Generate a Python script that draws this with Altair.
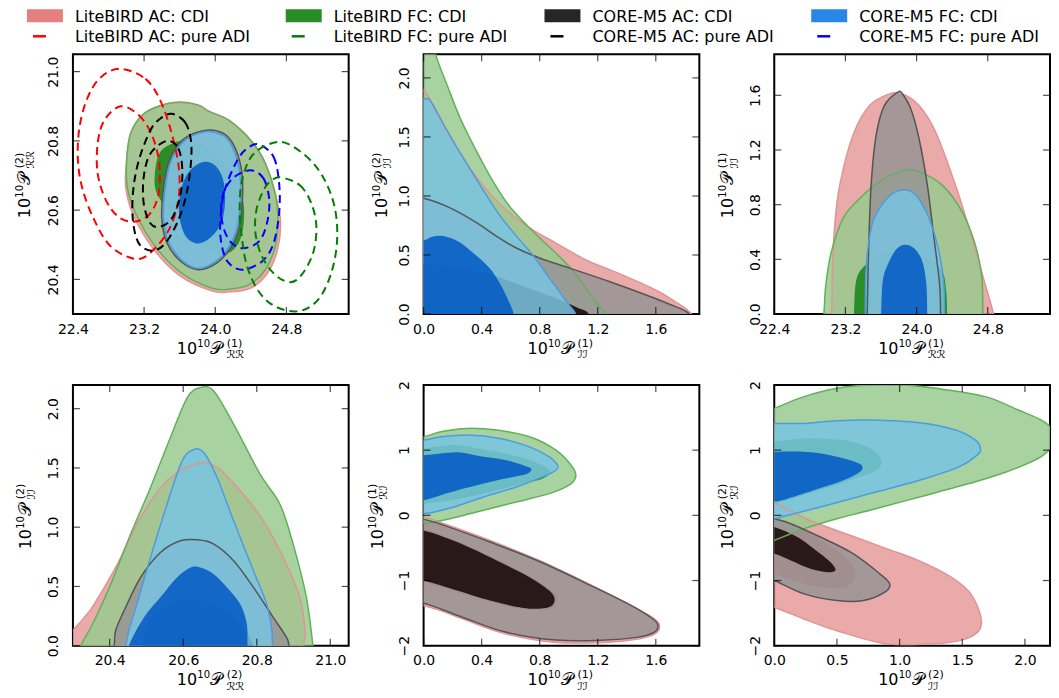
import altair as alt
import pandas as pd

FONT = "DejaVu Sans"

# ---------------- legend ----------------
LEG_CDI = ["LiteBIRD AC: CDI", "LiteBIRD FC: CDI", "CORE-M5 AC: CDI", "CORE-M5 FC: CDI"]
LEG_ADI = ["LiteBIRD AC: pure ADI", "LiteBIRD FC: pure ADI", "CORE-M5 AC: pure ADI", "CORE-M5 FC: pure ADI"]
LEG_PATCH = ["#e68080", "#288c28", "#262626", "#2887e6"]
LEG_DASH = ["#ff0000", "#008000", "#000000", "#0000ff"]

# ---------------- colours ----------------
C_LBAC_95, C_LBAC_68, E_LBAC = "#e79b9b", "#dc6060", "#e09494"
C_LBFC_95, C_LBFC_68, E_LBFC = "#99ca8f", "#148214", "#62b05a"
C_COAC_95, C_COAC_68, E_COAC = "#969494", "#140505", "#555555"
C_COFC_95, C_COFC_68, E_COFC = "#78c4e2", "#0058c4", "#4f9be0"

# ---------------- panel 1: P_RR(1) vs P_RR(2) ----------------
P1_LBAC_95 = [(23.004, 20.744), (23.048, 20.821), (23.178, 20.874), (23.363, 20.900), (23.585, 20.910),
              (23.807, 20.902), (23.933, 20.883), (24.156, 20.859), (24.415, 20.797), (24.563, 20.735),
              (24.674, 20.648), (24.733, 20.571), (24.704, 20.490), (24.593, 20.420), (24.400, 20.375),
              (24.156, 20.364), (23.956, 20.367), (23.604, 20.410), (23.307, 20.487), (23.078, 20.586),
              (22.993, 20.667)]
P1_LBFC_95 = [(23.004, 20.744), (23.048, 20.821), (23.178, 20.874), (23.363, 20.900), (23.585, 20.912),
              (23.807, 20.904), (23.933, 20.885), (24.156, 20.859), (24.415, 20.797), (24.563, 20.735),
              (24.674, 20.648), (24.704, 20.571), (24.674, 20.495), (24.563, 20.428), (24.378, 20.384),
              (24.156, 20.372), (23.956, 20.375), (23.622, 20.418), (23.326, 20.495), (23.104, 20.591),
              (23.011, 20.667)]
P1_LBFC_68 = [(23.319, 20.696), (23.370, 20.763), (23.511, 20.792), (23.696, 20.800), (23.956, 20.773),
              (24.178, 20.715), (24.304, 20.639), (24.322, 20.571), (24.270, 20.509), (24.141, 20.476),
              (23.956, 20.480), (23.696, 20.533), (23.474, 20.600), (23.344, 20.648)]
P1_COAC_95 = [(23.881, 20.830), (24.096, 20.821), (24.215, 20.784), (24.296, 20.715), (24.307, 20.639),
              (24.270, 20.550), (24.170, 20.490), (24.015, 20.447), (23.807, 20.428), (23.607, 20.453),
              (23.456, 20.506), (23.400, 20.571), (23.411, 20.648), (23.474, 20.736), (23.630, 20.802)]
P1_COFC_95 = [(23.881, 20.826), (24.085, 20.816), (24.193, 20.782), (24.270, 20.715), (24.285, 20.639),
              (24.248, 20.552), (24.156, 20.495), (24.007, 20.452), (23.807, 20.432), (23.622, 20.456),
              (23.474, 20.509), (23.419, 20.571), (23.430, 20.648), (23.493, 20.735), (23.641, 20.797)]
P1_COFC_68 = [(23.863, 20.739), (23.993, 20.730), (24.085, 20.691), (24.111, 20.629), (24.067, 20.562),
              (23.933, 20.518), (23.789, 20.504), (23.659, 20.528), (23.593, 20.591), (23.615, 20.658),
              (23.704, 20.711)]
# pure ADI (dashed)
P1_ADI_LBAC_95 = [(22.937, 21.008), (23.215, 20.979), (23.381, 20.917), (23.511, 20.821), (23.593, 20.715),
                  (23.578, 20.619), (23.456, 20.533), (23.215, 20.466), (23.030, 20.464), (22.807, 20.500),
                  (22.641, 20.571), (22.511, 20.658), (22.456, 20.744), (22.474, 20.840), (22.567, 20.926),
                  (22.715, 20.984)]
P1_ADI_LBAC_68 = [(22.937, 20.900), (23.141, 20.874), (23.289, 20.816), (23.370, 20.735), (23.363, 20.648),
                  (23.270, 20.591), (23.104, 20.567), (22.919, 20.579), (22.770, 20.629), (22.678, 20.706),
                  (22.678, 20.792), (22.752, 20.859)]
P1_ADI_COAC_95 = [(23.511, 20.878), (23.659, 20.854), (23.726, 20.802), (23.726, 20.735), (23.678, 20.648),
                  (23.585, 20.571), (23.437, 20.504), (23.289, 20.483), (23.141, 20.504), (23.074, 20.571),
                  (23.078, 20.658), (23.141, 20.744), (23.270, 20.830), (23.381, 20.864)]
P1_ADI_COAC_68 = [(23.456, 20.800), (23.585, 20.778), (23.630, 20.715), (23.604, 20.639), (23.511, 20.576),
                  (23.381, 20.552), (23.270, 20.562), (23.196, 20.619), (23.196, 20.696), (23.270, 20.763)]
P1_ADI_COFC_95 = [(24.489, 20.790), (24.655, 20.754), (24.718, 20.677), (24.718, 20.591), (24.655, 20.504),
                  (24.526, 20.452), (24.303, 20.428), (24.137, 20.452), (24.063, 20.514), (24.063, 20.591),
                  (24.118, 20.667), (24.248, 20.744), (24.359, 20.778)]
P1_ADI_COFC_68 = [(24.396, 20.715), (24.544, 20.691), (24.607, 20.629), (24.581, 20.562), (24.489, 20.509),
                  (24.303, 20.490), (24.155, 20.514), (24.074, 20.571), (24.081, 20.639), (24.192, 20.691)]
P1_ADI_LBFC_95 = [(24.729, 20.797), (25.007, 20.759), (25.211, 20.696), (25.341, 20.610), (25.370, 20.514),
                  (25.304, 20.418), (25.155, 20.341), (24.933, 20.308), (24.674, 20.322), (24.489, 20.365),
                  (24.359, 20.437), (24.303, 20.514), (24.274, 20.600), (24.303, 20.687), (24.433, 20.763)]
P1_ADI_LBFC_68 = [(24.748, 20.694), (24.952, 20.672), (25.081, 20.619), (25.137, 20.552), (25.100, 20.476),
                  (24.970, 20.413), (24.841, 20.392), (24.674, 20.413), (24.526, 20.466), (24.452, 20.533),
                  (24.463, 20.600), (24.544, 20.658), (24.637, 20.687)]

# ---------------- panel 2: P_II(1) vs P_II(2) ----------------
P2_LBAC_95 = [(-0.15, 1.95), (0.005, 1.886), (0.073, 1.740), (0.163, 1.543), (0.277, 1.318), (0.388, 1.121),
              (0.526, 0.93), (0.65, 0.80), (0.769, 0.70), (0.912, 0.601), (1.02, 0.525), (1.138, 0.447),
              (1.365, 0.334), (1.592, 0.208), (1.728, 0.110), (1.845, 0.0), (1.87, -0.15), (0.9, -0.3),
              (-0.15, -0.15)]
P2_LBFC_95 = [(-0.15, 2.5), (0.06, 2.39), (0.084, 2.195), (0.163, 1.936), (0.254, 1.653), (0.367, 1.374),
              (0.48, 1.121), (0.60, 0.90), (0.77, 0.68), (0.90, 0.53), (1.02, 0.38), (1.10, 0.25),
              (1.18, 0.11), (1.256, 0.0), (1.29, -0.15), (0.6, -0.3), (-0.15, -0.15)]
P2_COAC_95 = [(-0.15, 1.0), (0.0, 0.98), (0.186, 0.897), (0.37, 0.77), (0.503, 0.658), (0.639, 0.559),
              (0.798, 0.475), (1.002, 0.391), (1.274, 0.278), (1.524, 0.166), (1.728, 0.067), (1.830, 0.0),
              (1.86, -0.15), (0.9, -0.3), (-0.15, -0.15)]
P2_COAC_68 = [(-0.15, 0.42), (0.0, 0.42), (0.2, 0.40), (0.454, 0.337), (0.7, 0.23), (0.9, 0.14),
              (1.05, 0.06), (1.14, 0.0), (1.16, -0.15), (0.5, -0.3), (-0.15, -0.15)]
P2_COFC_95 = [(-0.15, 1.83), (0.005, 1.824), (0.05, 1.80), (0.141, 1.60), (0.254, 1.36), (0.374, 1.121),
              (0.522, 0.84), (0.64, 0.66), (0.748, 0.505), (0.87, 0.30), (0.998, 0.084), (1.048, 0.0),
              (1.07, -0.15), (0.5, -0.3), (-0.15, -0.15)]
P2_COFC_68 = [(-0.15, 0.6), (0.0, 0.625), (0.06, 0.655), (0.136, 0.66), (0.23, 0.62), (0.33, 0.53),
              (0.454, 0.39), (0.53, 0.25), (0.59, 0.10), (0.62, 0.0), (0.63, -0.15), (0.3, -0.3),
              (-0.15, -0.15)]

# ---------------- panel 3: P_RR(1) vs P_II(1) ----------------
P3_LBAC_95 = [(23.0, -0.15), (23.043, 0.0), (23.054, 0.337), (23.08, 0.652), (23.136, 0.943), (23.285, 1.307),
              (23.471, 1.525), (23.694, 1.610), (23.842, 1.610), (24.028, 1.525), (24.214, 1.331),
              (24.437, 0.943), (24.623, 0.555), (24.772, 0.216), (24.865, 0.0), (24.9, -0.15), (24.0, -0.3)]
P3_LBFC_95 = [(22.93, -0.15), (22.958, 0.0), (22.98, 0.216), (23.043, 0.458), (23.173, 0.70), (23.359, 0.845),
              (23.582, 0.967), (23.842, 1.047), (24.028, 1.04), (24.288, 0.943), (24.511, 0.749),
              (24.660, 0.507), (24.734, 0.264), (24.745, 0.0), (24.76, -0.15), (23.85, -0.3)]
P3_LBFC_68 = [(23.28, -0.15), (23.296, 0.0), (23.314, 0.216), (23.378, 0.325), (23.545, 0.41), (23.842, 0.458),
              (24.14, 0.41), (24.289, 0.313), (24.333, 0.167), (24.344, 0.0), (24.36, -0.15), (23.8, -0.3)]
P3_COAC_95 = [(23.43, -0.15), (23.445, 0.0), (23.46, 0.458), (23.489, 0.943), (23.545, 1.307), (23.638, 1.525),
              (23.787, 1.622), (23.842, 1.61), (23.935, 1.501), (24.028, 1.282), (24.121, 0.943),
              (24.196, 0.555), (24.259, 0.216), (24.270, 0.0), (24.28, -0.15), (23.85, -0.3)]
P3_COFC_95 = [(23.41, -0.15), (23.422, 0.0), (23.433, 0.337), (23.489, 0.628), (23.582, 0.773), (23.731, 0.882),
              (23.861, 0.907), (23.991, 0.870), (24.140, 0.70), (24.251, 0.458), (24.307, 0.216),
              (24.314, 0.0), (24.32, -0.15), (23.85, -0.3)]
P3_COFC_68 = [(23.59, -0.15), (23.601, 0.0), (23.619, 0.24), (23.675, 0.361), (23.768, 0.47), (23.861, 0.507),
              (23.972, 0.482), (24.065, 0.385), (24.11, 0.216), (24.121, 0.0), (24.13, -0.15), (23.85, -0.3)]

# ---------------- panel 4: P_RR(2) vs P_II(2) ----------------
P4_LBAC_95 = [(20.2, -0.2), (20.28, 0.06), (20.30, 0.13), (20.331, 0.239), (20.358, 0.351), (20.421, 0.689),
              (20.484, 1.082), (20.556, 1.391), (20.638, 1.537), (20.692, 1.504), (20.755, 1.307),
              (20.818, 1.054), (20.872, 0.745), (20.917, 0.408), (20.931, 0.126), (20.928, 0.0),
              (20.93, -0.15), (20.6, -0.3)]
P4_LBFC_95 = [(20.31, -0.15), (20.322, 0.0), (20.358, 0.211), (20.403, 0.52), (20.457, 0.942), (20.511, 1.335),
              (20.565, 1.757), (20.611, 2.094), (20.647, 2.178), (20.683, 2.15), (20.737, 1.869),
              (20.809, 1.447), (20.863, 1.194), (20.899, 0.857), (20.935, 0.408), (20.953, 0.0),
              (20.96, -0.15), (20.64, -0.3)]
P4_COAC_95 = [(20.40, -0.15), (20.412, 0.0), (20.416, 0.126), (20.439, 0.295), (20.484, 0.576), (20.538, 0.787),
              (20.592, 0.885), (20.638, 0.894), (20.683, 0.857), (20.737, 0.717), (20.791, 0.492),
              (20.845, 0.239), (20.881, 0.07), (20.888, 0.0), (20.90, -0.15), (20.65, -0.3)]
P4_COAC_68 = [(20.48, -0.15), (20.489, 0.0), (20.502, 0.183), (20.547, 0.323), (20.611, 0.385), (20.683, 0.351),
              (20.755, 0.183), (20.791, 0.0), (20.80, -0.15), (20.64, -0.3)]
P4_COFC_95 = [(20.44, -0.15), (20.444, 0.0), (20.452, 0.126), (20.474, 0.351), (20.511, 0.745), (20.556, 1.194),
              (20.597, 1.56), (20.628, 1.653), (20.656, 1.63), (20.692, 1.419), (20.737, 1.054),
              (20.791, 0.632), (20.827, 0.351), (20.841, 0.126), (20.843, 0.0), (20.85, -0.15), (20.64, -0.3)]
P4_COFC_68 = [(20.445, -0.15), (20.452, 0.0), (20.493, 0.239), (20.538, 0.408), (20.583, 0.576), (20.62, 0.66),
              (20.647, 0.66), (20.683, 0.604), (20.719, 0.492), (20.755, 0.351), (20.773, 0.183),
              (20.775, 0.0), (20.78, -0.15), (20.6, -0.3)]

# ---------------- panel 5: P_II(1) vs P_RI(1) ----------------
P5_LBAC_95 = [(-0.15, 0.0), (0.0, -0.026), (0.141, -0.128), (0.458, -0.385), (0.798, -0.692), (1.138, -1.051),
              (1.410, -1.359), (1.592, -1.590), (1.626, -1.718), (1.592, -1.821), (1.478, -1.897),
              (1.252, -1.949), (0.912, -1.949), (0.571, -1.821), (0.299, -1.615), (0.118, -1.462),
              (0.0, -1.385), (-0.15, -1.3)]
P5_LBAC_68 = [(-0.15, -0.2), (0.0, -0.21), (0.231, -0.39), (0.503, -0.675), (0.74, -0.94), (0.9, -1.19),
              (0.915, -1.34), (0.86, -1.44), (0.685, -1.44), (0.458, -1.33), (0.231, -1.18), (0.0, -1.03),
              (-0.15, -1.0)]
P5_LBFC_95 = [(-0.15, 1.2), (0.0, 1.205), (0.118, 1.282), (0.299, 1.333), (0.503, 1.308), (0.730, 1.205),
              (0.912, 1.0), (1.025, 0.744), (1.048, 0.59), (1.002, 0.462), (0.866, 0.333), (0.639, 0.205),
              (0.413, 0.077), (0.231, -0.026), (0.073, -0.103), (0.0, -0.12), (-0.15, -0.15)]
P5_LBFC_68 = [(-0.15, 1.02), (0.0, 1.026), (0.231, 1.077), (0.503, 0.974), (0.730, 0.846), (0.866, 0.703),
              (0.821, 0.564), (0.639, 0.462), (0.413, 0.333), (0.186, 0.231), (0.0, 0.179), (-0.15, 0.17)]
P5_COAC_95 = [(-0.15, -0.03), (0.0, -0.062), (0.141, -0.154), (0.458, -0.41), (0.798, -0.708), (1.138, -1.062),
              (1.41, -1.359), (1.58, -1.59), (1.615, -1.708), (1.58, -1.805), (1.467, -1.872),
              (1.252, -1.913), (0.912, -1.913), (0.571, -1.795), (0.299, -1.590), (0.118, -1.436),
              (0.0, -1.349), (-0.15, -1.28)]
P5_COAC_68 = [(-0.15, -0.2), (0.0, -0.231), (0.231, -0.41), (0.503, -0.692), (0.730, -0.949), (0.878, -1.179),
              (0.900, -1.333), (0.844, -1.421), (0.685, -1.421), (0.458, -1.308), (0.231, -1.154),
              (0.0, -1.0), (-0.15, -0.95)]
P5_COFC_95 = [(-0.15, 1.15), (0.0, 1.154), (0.118, 1.205), (0.299, 1.231), (0.526, 1.179), (0.730, 1.051),
              (0.866, 0.897), (0.923, 0.769), (0.912, 0.692), (0.821, 0.590), (0.639, 0.436), (0.413, 0.282),
              (0.209, 0.128), (0.073, 0.051), (0.0, 0.026), (-0.15, 0.0)]
P5_COFC_68 = [(-0.15, 0.92), (0.0, 0.923), (0.118, 0.949), (0.254, 0.964), (0.413, 0.897), (0.571, 0.846),
              (0.685, 0.769), (0.741, 0.718), (0.719, 0.641), (0.617, 0.59), (0.458, 0.513), (0.277, 0.41),
              (0.118, 0.308), (0.0, 0.231), (-0.15, 0.2)]

# ---------------- panel 6: P_II(2) vs P_RI(2) ----------------
P6_LBAC_95 = [(-0.15, 0.36), (0.0, 0.205), (0.263, -0.06), (0.553, -0.27), (0.895, -0.51), (1.158, -0.70),
              (1.395, -0.93), (1.553, -1.17), (1.632, -1.45), (1.653, -1.66), (1.618, -1.80), (1.5, -1.91),
              (1.289, -1.97), (0.895, -1.97), (0.5, -1.77), (0.237, -1.59), (0.0, -1.41), (-0.15, -1.33)]
P6_LBAC_68 = [(-0.15, 0.05), (0.0, -0.03), (0.237, -0.23), (0.5, -0.54), (0.632, -0.80), (0.64, -0.98),
              (0.58, -1.09), (0.45, -1.12), (0.237, -1.05), (0.0, -0.9), (-0.15, -0.85)]
P6_LBFC_95 = [(-0.15, 1.55), (0.0, 1.641), (0.237, 1.821), (0.5, 1.949), (0.763, 2.0), (1.026, 2.0),
              (1.289, 1.949), (1.684, 1.821), (1.947, 1.615), (2.132, 1.462), (2.21, 1.34), (2.24, 1.2),
              (2.19, 1.0), (2.079, 0.846), (1.816, 0.641), (1.553, 0.487), (1.158, 0.282), (0.763, 0.077),
              (0.5, -0.051), (0.237, -0.205), (0.0, -0.385), (-0.15, -0.5)]
P6_LBFC_68 = [(-0.15, 1.12), (0.0, 1.128), (0.237, 1.179), (0.553, 1.154), (0.763, 1.026), (0.855, 0.846),
              (0.816, 0.692), (0.684, 0.59), (0.447, 0.436), (0.184, 0.282), (0.0, 0.179), (-0.15, 0.12)]
P6_COAC_95 = [(-0.15, 0.02), (0.0, -0.051), (0.132, -0.128), (0.368, -0.333), (0.632, -0.590), (0.842, -0.897),
              (0.921, -1.051), (0.882, -1.179), (0.711, -1.308), (0.5, -1.308), (0.237, -1.205), (0.0, -1.0),
              (-0.15, -0.9)]
P6_COAC_68 = [(-0.15, -0.1), (0.0, -0.179), (0.184, -0.333), (0.368, -0.590), (0.461, -0.744), (0.487, -0.846),
              (0.421, -0.872), (0.289, -0.821), (0.132, -0.692), (0.0, -0.590), (-0.15, -0.55)]
P6_COFC_95 = [(-0.15, 1.41), (0.0, 1.41), (0.237, 1.41), (0.5, 1.451), (0.763, 1.462), (1.158, 1.421),
              (1.447, 1.308), (1.605, 1.154), (1.645, 1.026), (1.618, 0.923), (1.474, 0.744), (1.158, 0.538),
              (0.763, 0.333), (0.368, 0.128), (0.079, -0.015), (0.0, -0.051), (-0.15, -0.1)]
P6_COFC_68 = [(-0.15, 0.97), (0.0, 0.974), (0.237, 0.974), (0.447, 0.923), (0.605, 0.846), (0.697, 0.769),
              (0.684, 0.667), (0.553, 0.538), (0.316, 0.385), (0.105, 0.256), (0.0, 0.205), (-0.15, 0.15)]

# ---------------- axes ----------------
X_RR1 = [22.4, 23.2, 24.0, 24.8]
Y_RR2 = [20.4, 20.6, 20.8, 21.0]
T_II_A = [0.0, 0.4, 0.8, 1.2, 1.6]
T_II_B = [0.0, 0.5, 1.0, 1.5, 2.0]
T_II_P3 = [0.0, 0.4, 0.8, 1.2, 1.6]
T_RI = [-2, -1, 0, 1, 2]

# ---------------- layout ----------------
W = 276
H1, H2 = 260, 261
PLOT_LEFT = 72
LEG_COL_X = [26, 285, 544, 811]


def poly_df(pts):
    return pd.DataFrame({"x": [p[0] for p in pts], "y": [p[1] for p in pts], "i": list(range(len(pts)))})


def text_layer(t, x0, y0, size, angle=0, dx=0, dy=0, baseline="alphabetic"):
    return (alt.Chart(pd.DataFrame({"t": [t]}))
            .mark_text(align="left", baseline=baseline, dx=dx, dy=dy, fontSize=size, font=FONT,
                       color="black", angle=angle)
            .encode(x=alt.value(x0), y=alt.value(y0), text="t:N"))


def math_title(sup, sub, x0, y0, angle):
    pieces = [("10", 0, 0, 16), ("10", 20.5, -7, 10), ("\U0001D4AB", 33.5, 0, 17),
              (sup, 50, -7, 11), (sub, 50, 4.5, 11)]
    return [text_layer(t, x0, y0, fs, angle, dx, dy) for t, dx, dy, fs in pieces]


def legend_layers():
    out = []
    for k in range(4):
        x0 = LEG_COL_X[k] - PLOT_LEFT
        out.append(alt.Chart(pd.DataFrame({"c": [LEG_PATCH[k]]})).mark_rect(color=LEG_PATCH[k]).encode(
            x=alt.value(x0), x2=alt.value(x0 + 36), y=alt.value(-45), y2=alt.value(-32)))
        out.append(alt.Chart(pd.DataFrame({"c": [LEG_DASH[k]]})).mark_rule(color=LEG_DASH[k], strokeWidth=2.5).encode(
            x=alt.value(x0 + 6), x2=alt.value(x0 + 19), y=alt.value(-18)))
        out.append(text_layer(LEG_CDI[k], x0 + 48, -37, 16, baseline="middle"))
        out.append(text_layer(LEG_ADI[k], x0 + 48, -17, 16, baseline="middle"))
    out.append(alt.Chart(pd.DataFrame({"a": [0]})).mark_rule(strokeOpacity=0).encode(
        x=alt.value(-PLOT_LEFT + 8), x2=alt.value(-PLOT_LEFT + 10), y=alt.value(-40)))
    return out


def panel(xdom, ydom, xt, yt, xfmt, yfmt, fills, edges, dashed, xlab, ylab, H, ytoff=41, xtoff=40, extra=()):
    xs = alt.Scale(domain=xdom, nice=False, zero=False)
    ys = alt.Scale(domain=ydom, nice=False, zero=False)
    xaxis = alt.Axis(values=xt, format=xfmt, ticks=False, domain=False, grid=False, labelFont=FONT,
                     labelFontSize=14, labelColor="black", labelPadding=8, title=None,
                     labelFlush=False, labelOverlap=False)
    yaxis = alt.Axis(values=yt, format=yfmt, ticks=False, domain=False, grid=False, labelFont=FONT,
                     labelFontSize=14, labelColor="black", labelPadding=12, labelAngle=270,
                     labelAlign="center", labelBaseline="bottom", title=None,
                     labelFlush=False, labelOverlap=False)

    def xy(ch):
        return ch.encode(x=alt.X("x:Q", scale=xs, axis=xaxis), y=alt.Y("y:Q", scale=ys, axis=yaxis),
                         order=alt.Order("i:Q"))

    layers = []
    for pts, col in fills:
        layers.append(xy(alt.Chart(poly_df(pts)).mark_line(
            filled=True, color=col, opacity=0.85, interpolate="cardinal-closed", clip=True)))
    for pts, col in edges:
        layers.append(xy(alt.Chart(poly_df(pts)).mark_line(
            color=col, strokeWidth=1.5, interpolate="cardinal-closed", clip=True)))
    for pts, col in dashed:
        layers.append(xy(alt.Chart(poly_df(pts)).mark_line(
            color=col, strokeWidth=2, strokeDash=[8, 5], interpolate="cardinal-closed", clip=True)))

    xtd = pd.DataFrame({"v": xt})
    ytd = pd.DataFrame({"v": yt})
    tv = dict(orient="vertical", size=7, thickness=1.2, color="black")
    th = dict(orient="horizontal", size=7, thickness=1.2, color="black")
    layers.append(alt.Chart(xtd).mark_tick(**tv).encode(x=alt.X("v:Q", scale=xs, axis=xaxis), y=alt.value(H - 3.5)))
    layers.append(alt.Chart(xtd).mark_tick(**tv).encode(x=alt.X("v:Q", scale=xs, axis=xaxis), y=alt.value(3.5)))
    layers.append(alt.Chart(ytd).mark_tick(**th).encode(y=alt.Y("v:Q", scale=ys, axis=yaxis), x=alt.value(3.5)))
    layers.append(alt.Chart(ytd).mark_tick(**th).encode(y=alt.Y("v:Q", scale=ys, axis=yaxis), x=alt.value(W - 3.5)))

    layers += math_title(xlab[0], xlab[1], W / 2 - 34, H + xtoff, 0)
    layers += math_title(ylab[0], ylab[1], -ytoff, H / 2 + 34, 270)
    layers += list(extra)
    return alt.layer(*layers).properties(width=W, height=H,
                                         view=alt.ViewBackground(stroke="black", strokeWidth=2))


p1 = panel([22.4, 25.5], [20.3, 21.05], X_RR1, Y_RR2, ".1f", ".1f",
           [(P1_LBAC_95, C_LBAC_95), (P1_LBFC_95, C_LBFC_95), (P1_LBFC_68, C_LBFC_68),
            (P1_COAC_95, C_COAC_95), (P1_COFC_95, C_COFC_95), (P1_COFC_68, C_COFC_68)],
           [(P1_LBAC_95, E_LBAC), (P1_LBFC_95, E_LBFC), (P1_COAC_95, E_COAC), (P1_COFC_95, E_COFC)],
           [(P1_ADI_LBAC_95, LEG_DASH[0]), (P1_ADI_LBAC_68, LEG_DASH[0]),
            (P1_ADI_COAC_95, LEG_DASH[2]), (P1_ADI_COAC_68, LEG_DASH[2]),
            (P1_ADI_COFC_95, LEG_DASH[3]), (P1_ADI_COFC_68, LEG_DASH[3]),
            (P1_ADI_LBFC_95, LEG_DASH[1]), (P1_ADI_LBFC_68, LEG_DASH[1])],
           ("(1)", "\u211B\u211B"), ("(2)", "\u211B\u211B"), H1, 43, extra=legend_layers())

p2 = panel([0, 1.9], [0, 2.2], T_II_A, T_II_B, ".1f", ".1f",
           [(P2_LBAC_95, C_LBAC_95), (P2_LBFC_95, C_LBFC_95), (P2_COAC_95, C_COAC_95),
            (P2_COAC_68, C_COAC_68), (P2_COFC_95, C_COFC_95), (P2_COFC_68, C_COFC_68)],
           [(P2_LBAC_95, E_LBAC), (P2_LBFC_95, E_LBFC), (P2_COAC_95, E_COAC), (P2_COFC_95, E_COFC)],
           [], ("(1)", "\u2110\u2110"), ("(2)", "\u2110\u2110"), H1, 37)

p3 = panel([22.4, 25.5], [0, 1.9], X_RR1, T_II_P3, ".1f", ".1f",
           [(P3_LBAC_95, C_LBAC_95), (P3_LBFC_95, C_LBFC_95), (P3_LBFC_68, C_LBFC_68),
            (P3_COAC_95, C_COAC_95), (P3_COFC_95, C_COFC_95), (P3_COFC_68, C_COFC_68)],
           [(P3_LBAC_95, E_LBAC), (P3_LBFC_95, E_LBFC), (P3_COAC_95, E_COAC), (P3_COFC_95, E_COFC)],
           [], ("(1)", "\u211B\u211B"), ("(1)", "\u2110\u2110"), H1, 41)

p4 = panel([20.3, 21.05], [0, 2.2], Y_RR2, T_II_B, ".1f", ".1f",
           [(P4_LBAC_95, C_LBAC_95), (P4_LBFC_95, C_LBFC_95), (P4_COAC_95, C_COAC_95),
            (P4_COAC_68, C_COAC_68), (P4_COFC_95, C_COFC_95), (P4_COFC_68, C_COFC_68)],
           [(P4_LBAC_95, E_LBAC), (P4_LBFC_95, E_LBFC), (P4_COAC_95, E_COAC), (P4_COFC_95, E_COFC)],
           [], ("(2)", "\u211B\u211B"), ("(2)", "\u2110\u2110"), H2, 42, 39.5)

p5 = panel([0, 1.9], [-2, 2], T_II_A, T_RI, ".1f", "d",
           [(P5_LBAC_95, C_LBAC_95), (P5_LBAC_68, C_LBAC_68), (P5_LBFC_95, C_LBFC_95), (P5_LBFC_68, C_LBFC_68),
            (P5_COAC_95, C_COAC_95), (P5_COAC_68, C_COAC_68), (P5_COFC_95, C_COFC_95), (P5_COFC_68, C_COFC_68)],
           [(P5_LBAC_95, E_LBAC), (P5_LBFC_95, E_LBFC), (P5_COAC_95, E_COAC), (P5_COFC_95, E_COFC)],
           [], ("(1)", "\u2110\u2110"), ("(1)", "\u211B\u2110"), H2, 41, 39.5)

p6 = panel([0, 2.2], [-2, 2], T_II_B, T_RI, ".1f", "d",
           [(P6_LBAC_95, C_LBAC_95), (P6_LBAC_68, C_LBAC_68), (P6_LBFC_95, C_LBFC_95), (P6_LBFC_68, C_LBFC_68),
            (P6_COAC_95, C_COAC_95), (P6_COAC_68, C_COAC_68), (P6_COFC_95, C_COFC_95), (P6_COFC_68, C_COFC_68)],
           [(P6_LBAC_95, E_LBAC), (P6_LBFC_95, E_LBFC), (P6_COAC_95, E_COAC), (P6_COFC_95, E_COFC)],
           [], ("(2)", "\u2110\u2110"), ("(2)", "\u211B\u2110"), H2, 41, 39.5)

chart = alt.concat(p1, p2, p3, p4, p5, p6, columns=3, bounds="flush",
                   spacing=alt.RowColnumber(row=71, column=75)).properties(padding=0).configure_view(
    stroke=None).configure(background="white")

chart.save("out.html", embed_options={"renderer": "svg", "actions": False})
